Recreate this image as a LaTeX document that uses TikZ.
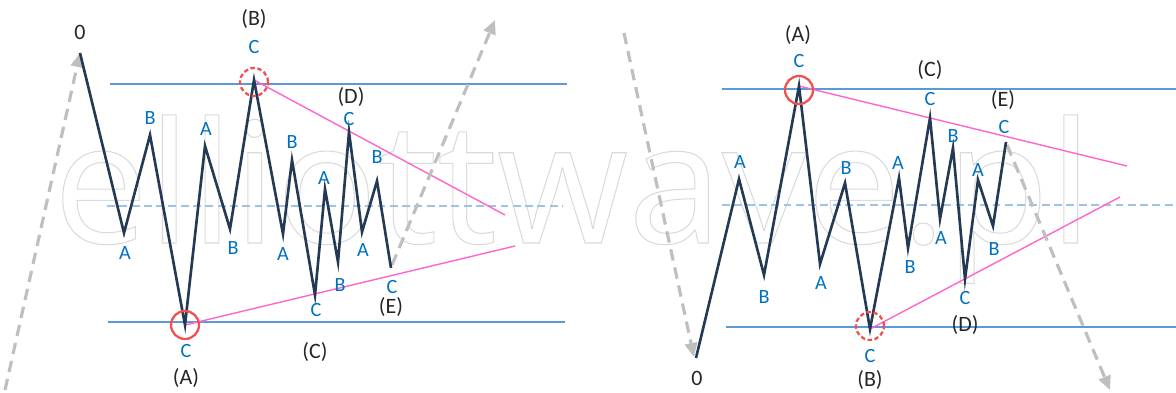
\documentclass[tikz,border=0pt]{standalone}
\usepackage{fontspec}
\setmainfont{Carlito}
\newfontfamily\markfont{Open Sans}
\usetikzlibrary{arrows.meta}
\definecolor{wavecol}{RGB}{36,58,84}
\definecolor{lvlblue}{RGB}{91,155,213}
\definecolor{midblue}{RGB}{157,195,230}
\definecolor{tripink}{RGB}{255,102,204}
\definecolor{ringred}{RGB}{240,80,80}
\definecolor{trendgray}{RGB}{191,191,191}
\definecolor{subblue}{RGB}{0,112,192}
\definecolor{wmgray}{RGB}{218,218,218}

\begin{document}
\begin{tikzpicture}[x=0.02cm, y=-0.02cm,
  waveline/.style={draw=wavecol, line width=1.5pt},
  lvl/.style={draw=lvlblue, line width=1.6pt},
  midline/.style={draw=midblue, line width=0.9pt, dash pattern=on 4.5pt off 2.5pt},
  tri/.style={draw=tripink, line width=0.8pt},
  ring/.style={circle, draw=ringred, line width=1.3pt, minimum size=0.56cm, inner sep=0pt},
  ringd/.style={ring, dash pattern=on 2.5pt off 1.5pt},
  trend/.style={draw=trendgray, line width=1.8pt, dash pattern=on 6.5pt off 4pt,
    -{Triangle[length=8pt, width=7pt, fill=trendgray]}},
  sub/.style={text=subblue, font=\fontsize{11.5}{13}\selectfont, inner sep=0pt},
  deg/.style={text=black!85, font=\fontsize{12.5}{14}\selectfont, inner sep=0pt},
]
\useasboundingbox (0,0) rectangle (1176,392);
% watermark
\node[anchor=base west, inner sep=0pt, text=wmgray, font=\markfont\fontsize{96}{96}\selectfont] (mark) at (53,243)
  {\special{pdf:literal direct 1 Tr 0.6 w}elliottwave.pl\special{pdf:literal direct 0 Tr}};
% ---------------- left: triangle after a rise ----------------
\draw[lvl] (110,84) -- (567,84);
\draw[lvl] (108,322) -- (565,322);
\draw[midline] (107,206) -- (563,206);
\coordinate (L0) at (80,53);
\coordinate (L1) at (124,233);
\coordinate (L2) at (150,135);
\coordinate (L3) at (185,325);
\coordinate (L4) at (205,146);
\coordinate (L5) at (230,229);
\coordinate (L6) at (254,80);
\coordinate (L7) at (283,234);
\coordinate (L8) at (292,160);
\coordinate (L9) at (315,295);
\coordinate (L10) at (325,189);
\coordinate (L11) at (338,262);
\coordinate (L12) at (349,132);
\coordinate (L13) at (362,232);
\coordinate (L14) at (377,181);
\coordinate (L15) at (391,268);
\coordinate (Lstart) at (5,390);
\coordinate (Lup) at (495,20);
\coordinate (Lhi) at (505,215);
\coordinate (Llo) at (515,246);
\draw[tri] (L6) -- (Lhi);
\draw[tri] (L3) -- (Llo);
\draw[trend] (Lstart) -- (L0);
\draw[trend] ([shift={(1,-3)}]L15) -- (Lup);
\draw[waveline] (L0) -- (L1) -- (L2) -- (L3) -- (L4) -- (L5) -- (L6) -- (L7)
  -- (L8) -- (L9) -- (L10) -- (L11) -- (L12) -- (L13) -- (L14) -- (L15);
\node[ring] (ringA) at (L3) {};
\node[ringd] (ringB) at (254,82) {};
\node[deg] (l0) at (80,32) {0};
\node[deg] (lB) at (254,19) {(B)};
\node[deg] (lD) at (351,97) {(D)};
\node[deg] (lE) at (391,307) {(E)};
\node[deg] (lC) at (315,352) {(C)};
\node[deg] (lA) at (186,378) {(A)};
\node[sub] (la1) at (125,253) {A};
\node[sub] (lb1) at (150,118) {B};
\node[sub] (lc1) at (186,351) {C};
\node[sub] (la2) at (206,129) {A};
\node[sub] (lb2) at (233,248) {B};
\node[sub] (lc2) at (254,47) {C};
\node[sub] (la3) at (283,254) {A};
\node[sub] (lb3) at (292,142) {B};
\node[sub] (lc3) at (316,310) {C};
\node[sub] (la4) at (324,178) {A};
\node[sub] (lb4) at (340,285) {B};
\node[sub] (lc4) at (349,119) {C};
\node[sub] (la5) at (363,250) {A};
\node[sub] (lb5) at (377,157) {B};
\node[sub] (lc5) at (392,287) {C};
% ---------------- right: triangle after a fall ----------------
\draw[lvl] (722,89) -- (1176,89);
\draw[lvl] (726,327) -- (1176,327);
\draw[midline] (722,205) -- (1176,205);
\coordinate (R0) at (696,358);
\coordinate (R1) at (739,179);
\coordinate (R2) at (764,275);
\coordinate (R3) at (799,86);
\coordinate (R4) at (820,264);
\coordinate (R5) at (845,183);
\coordinate (R6) at (870,329);
\coordinate (R7) at (899,178);
\coordinate (R8) at (908,248);
\coordinate (R9) at (930,118);
\coordinate (R10) at (940,219);
\coordinate (R11) at (953,148);
\coordinate (R12) at (965,279);
\coordinate (R13) at (978,180);
\coordinate (R14) at (993,226);
\coordinate (R15) at (1006,142);
\coordinate (Rstart) at (624,33);
\coordinate (Rdown) at (1110,390);
\coordinate (Rhi) at (1127,166);
\coordinate (Rlo) at (1120,197);
\draw[tri] (R3) -- (Rhi);
\draw[tri] (R6) -- (Rlo);
\draw[trend] (Rstart) -- ([shift={(-2,-1)}]R0);
\draw[trend] ([shift={(1,3)}]R15) -- (Rdown);
\draw[waveline] (R0) -- (R1) -- (R2) -- (R3) -- (R4) -- (R5) -- (R6) -- (R7)
  -- (R8) -- (R9) -- (R10) -- (R11) -- (R12) -- (R13) -- (R14) -- (R15);
\node[ring] (ringRA) at (799,90) {};
\node[ringd] (ringRB) at (870,326) {};
\node[deg] (r0) at (697,378) {0};
\node[deg] (rA) at (798,35) {(A)};
\node[deg] (rC) at (930,70) {(C)};
\node[deg] (rE) at (1003,100) {(E)};
\node[deg] (rD) at (965,325) {(D)};
\node[deg] (rB) at (870,380) {(B)};
\node[sub] (ra1) at (740,162) {A};
\node[sub] (rb1) at (764,297) {B};
\node[sub] (rc1) at (799,61) {C};
\node[sub] (ra2) at (821,283) {A};
\node[sub] (rb2) at (846,168) {B};
\node[sub] (rc2) at (870,356) {C};
\node[sub] (ra3) at (898,163) {A};
\node[sub] (rb3) at (910,267) {B};
\node[sub] (rc3) at (930,99) {C};
\node[sub] (ra4) at (941,238) {A};
\node[sub] (rb4) at (953,136) {B};
\node[sub] (rc4) at (965,298) {C};
\node[sub] (ra5) at (978,170) {A};
\node[sub] (rb5) at (994,249) {B};
\node[sub] (rc5) at (1004,127) {C};
\end{tikzpicture}
\end{document}
